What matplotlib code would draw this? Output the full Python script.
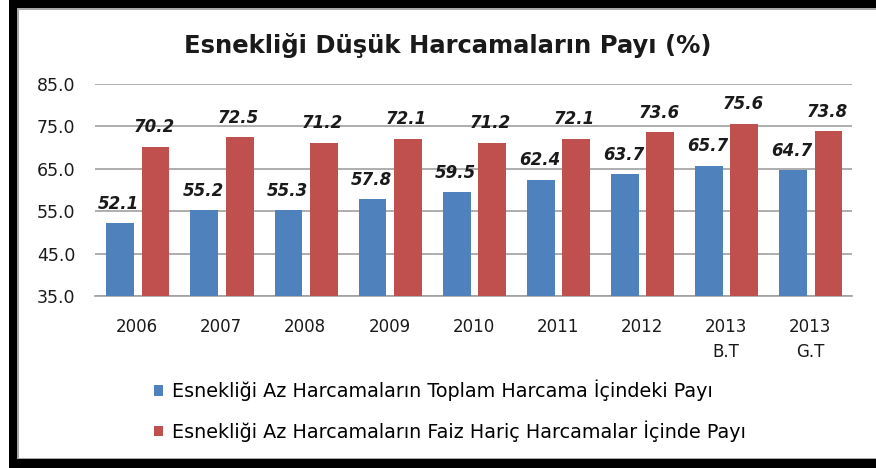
import numpy as np
import matplotlib.pyplot as plt
from matplotlib.patches import Rectangle

years = ['2006', '2007', '2008', '2009', '2010', '2011', '2012', '2013\nB.T', '2013\nG.T']
toplam = [52.1, 55.2, 55.3, 57.8, 59.5, 62.4, 63.7, 65.7, 64.7]
faiz_haric = [70.2, 72.5, 71.2, 72.1, 71.2, 72.1, 73.6, 75.6, 73.8]
label_toplam = 'Esnekliği Az Harcamaların Toplam Harcama İçindeki Payı'
label_faiz = 'Esnekliği Az Harcamaların Faiz Hariç Harcamalar İçinde Payı'

blue = '#4F81BD'
red = '#C0504D'

W, H = 876, 468
fig = plt.figure(figsize=(8.76, 4.68), dpi=100)
fig.patch.set_facecolor('white')


def px_rect(x0, y0, x1, y1, **kw):
    # rectangle given in pixel coords measured from the top-left corner
    fig.patches.append(Rectangle((x0 / W, 1 - y1 / H), (x1 - x0) / W, (y1 - y0) / H,
                                 transform=fig.transFigure, **kw))


# black frame (top, left, bottom) and the thin grey inner edge
px_rect(9, 0, W, 8, facecolor='black', edgecolor='none')
px_rect(9, 0, 17, H, facecolor='black', edgecolor='none')
px_rect(9, 459, W, H, facecolor='black', edgecolor='none')
px_rect(17, 8, 18.5, 459, facecolor='#A8A8A8', edgecolor='none')
px_rect(17, 8, W, 9.5, facecolor='#A8A8A8', edgecolor='none')
px_rect(17, 457.5, W, 459, facecolor='#A8A8A8', edgecolor='none')

ax = fig.add_axes([95 / W, (H - 296) / H, (852 - 95) / W, (296 - 84) / H])
ax.set_facecolor('none')

x = np.arange(len(years))
w = 0.33
b1 = ax.bar(x - 0.2, toplam, w, color=blue, zorder=3)
b2 = ax.bar(x + 0.22, faiz_haric, w, color=red, zorder=3)

for bars, vals in ((b1, toplam), (b2, faiz_haric)):
    for r, v in zip(bars, vals):
        ax.annotate(f'{v:.1f}', (r.get_x() + r.get_width() / 2, v),
                    xytext=(-1, 7.5), textcoords='offset points', ha='center', va='bottom',
                    fontsize=12, fontweight='bold', fontstyle='italic', color='#1a1a1a')

ax.set_ylim(35, 85)
ticks = np.arange(35, 86, 10)
ax.set_yticks(ticks)
ax.set_yticklabels([f'{t:.1f}' for t in ticks], fontsize=12.5, color='#1a1a1a')
ax.set_xlim(-0.5, len(years) - 0.5)
ax.set_xticks(x)
ax.set_xticklabels(years, fontsize=12, color='#1a1a1a', linespacing=1.45)
ax.tick_params(length=0)
ax.tick_params(axis='x', pad=16)
ax.tick_params(axis='y', pad=14)
ax.yaxis.grid(True, color='#A0A0A0', linewidth=1.2, zorder=0)
for s in ('top', 'right', 'left'):
    ax.spines[s].set_visible(False)
ax.spines['bottom'].set_color('#A0A0A0')
ax.spines['bottom'].set_linewidth(1.2)

fig.text(448 / W, 1 - 45 / H, 'Esnekliği Düşük Harcamaların Payı (%)', ha='center', va='center',
         fontsize=17.5, fontweight='bold', color='#1a1a1a')

fig.legend([b1, b2], [label_toplam, label_faiz], loc='upper left',
           bbox_to_anchor=(146 / W, 1 - 372 / H), frameon=False, fontsize=13.8,
           handlelength=0.5, handleheight=0.5, handletextpad=0.45, labelspacing=1.0,
           borderaxespad=0)

fig.savefig('out.png', dpi=100, facecolor='white')
